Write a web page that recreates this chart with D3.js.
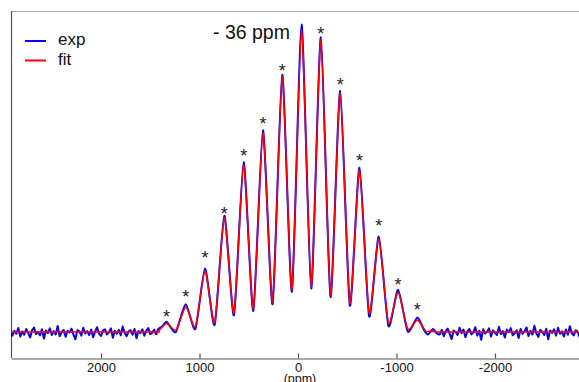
<!DOCTYPE html>
<html>
<head>
<meta charset="utf-8">
<script src="https://cdn.jsdelivr.net/npm/d3@7"></script>
<style>
  html, body { margin: 0; padding: 0; background: #fff; }
  svg { display: block; font-family: "Liberation Sans", Arial, Helvetica, sans-serif; }
</style>
</head>
<body>
<svg id="chart" width="579" height="382"></svg>
<script>
// ---------------- data ----------------
// x axis in ppm (reversed), y = relative intensity (baseline 0, main peak ~100)
const xTickValues = [2000, 1000, 0, -1000, -2000];
const xTickLabels = ["2000", "1000", "0", "-1000", "-2000"];
const xAxisTitle = "(ppm)";
const annotation = "- 36 ppm";
const seriesNames = ["exp", "fit"];
const seriesColors = ["#0000ff", "#ff0000"];

// fit curve: key points (peak tops and valleys) in ppm / intensity
const fitPpm = [2920, 1500, 1420, 1336, 1238, 1140, 1042, 944, 846, 748, 650, 552, 454, 356, 258, 160, 62, -36, -134, -232, -330, -428, -526, -624, -722, -820, -918, -1016, -1114, -1212, -1300, -1370, -1450, -2880];
const fitInt = [0, 0, 0.3, 2.8, 0.6, 8.3, 1.8, 20.2, 3.1, 37.7, 6.3, 55.3, 7.6, 65.9, 10.0, 84.4, 13.9, 100, 15.0, 96.7, 12.3, 79.1, 9.6, 53.6, 6.3, 30.8, 3.0, 13.2, 1.0, 4.0, 0.2, 0.6, 0, 0];

// experimental spectrum: noisy baseline on the left (from 2920 ppm, every 20 ppm)
const expLeftStart = 2920, expStep = 20;
const expLeftInt = [
  0.8,-1.2,0.4,-0.6,1.3,-1.5,0.2,-0.9,1.0,-0.3,-1.8,0.6,1.5,-0.7,0.1,
  -1.1,0.9,-2.2,0.5,-0.4,1.2,-1.0,0.3,-0.8,2.0,-1.4,0.0,0.7,-1.6,0.4,
  -0.2,1.1,-0.9,-2.4,0.6,0.2,-1.2,1.4,-0.5,0.3,-1.0,0.8,-1.7,0.1,1.6,
  -0.6,-1.3,0.5,0.9,-0.8,-0.1,1.2,-1.9,0.4,-0.6,0.7,-1.1,1.8,-0.3,-1.4,
  0.2,0.6,-0.9,1.0,-2.1,0.3,-0.4,0.9,-1.2,0.5,1.3,-0.7,-0.2,0.8,-1.0];
// experimental spectrum: sideband region
const expMidPpm = [1440, 1420, 1380, 1336, 1290, 1238, 1140, 1042, 944, 846, 748, 650, 552, 454, 356, 258, 160, 62, -36, -134, -232, -330, -428, -526, -624, -722, -820, -918, -1016, -1114, -1212, -1280, -1320, -1370, -1410, -1440];
const expMidInt = [-1.0, 0.9, 1.8, 3.4, 1.4, 0.1, 9.2, 1.0, 21.0, 2.4, 38.5, 5.6, 56.2, 7.0, 66.8, 9.2, 85.2, 13.4, 101.8, 14.4, 97.6, 11.6, 79.8, 8.8, 54.4, 5.2, 31.6, 2.0, 14.0, 0.2, 4.8, 0.6, -0.8, 1.0, -0.5, -0.9];
// experimental spectrum: noisy baseline on the right (from -1440 ppm, every 20 ppm)
const expRightStart = -1440;
const expRightInt = [
  -0.9,0.7,-1.4,0.3,1.1,-0.6,-2.3,0.5,0.0,-1.0,1.4,-0.4,0.8,-1.7,0.2,
  1.0,-0.8,-0.2,1.6,-1.2,0.4,-2.6,0.9,-0.5,0.1,1.2,-1.5,0.6,-0.3,-1.0,
  1.7,-0.7,0.3,-1.8,0.8,-0.1,1.3,-1.1,-0.4,0.6,-2.0,1.0,-0.6,0.2,1.5,
  -1.3,0.4,-0.8,2.1,-0.5,-1.6,0.7,0.1,-1.0,1.1,-2.4,0.5,-0.3,0.9,-1.2,
  1.4,-0.6,0.2,-1.5,0.8,-0.9,1.9,-0.4,-1.1,0.6,0.0,-1.8,1.2];

// spinning sideband markers (*) : position and label height
const starPpm = [1336, 1140, 944, 748, 552, 356, 160, -232, -428, -624, -820, -1016, -1212];
const starInt = [6.3, 12.9, 25.8, 40.4, 59.6, 70.2, 87.7, 100, 83.1, 57.9, 36.4, 16.9, 8.6];

// ---------------- chart ----------------
const W = 579, H = 382;
const plot = { left: 11, right: 579, top: 11, bottom: 358 };
const svg = d3.select("#chart");

const x = d3.scaleLinear().domain([2914, -2853]).range([plot.left, plot.right]);
const y = d3.scaleLinear().domain([0, 100]).range([332, 30]);

const fitData = fitPpm.map((p, i) => ({ p, v: fitInt[i] }));
const expLeft = expLeftInt.map((v, i) => ({ p: expLeftStart - i * expStep, v }));
const expMid = expMidPpm.map((p, i) => ({ p, v: expMidInt[i] }));
const expRight = expRightInt.map((v, i) => ({ p: expRightStart - i * expStep, v }));

svg.append("defs").append("clipPath").attr("id", "clip")
  .append("rect")
  .attr("x", plot.left).attr("y", 0)
  .attr("width", plot.right - plot.left).attr("height", plot.bottom);

// top frame line
svg.append("line")
  .attr("x1", plot.left).attr("x2", plot.right)
  .attr("y1", plot.top + 0.5).attr("y2", plot.top + 0.5)
  .attr("stroke", "#aaaaaa").attr("stroke-width", 1);

// left axis line
svg.append("line")
  .attr("x1", plot.left + 0.5).attr("x2", plot.left + 0.5)
  .attr("y1", plot.top).attr("y2", plot.bottom)
  .attr("stroke", "#555555").attr("stroke-width", 1.2);

// bottom axis
const xAxis = d3.axisBottom(x)
  .tickValues(xTickValues)
  .tickFormat((d, i) => xTickLabels[i])
  .tickSizeInner(-5)
  .tickSizeOuter(0)
  .tickPadding(4);
const gx = svg.append("g")
  .attr("transform", `translate(0,${plot.bottom + 0.5})`)
  .call(xAxis);
gx.select(".domain").attr("stroke", "#555555").attr("stroke-width", 1.2);
gx.selectAll(".tick line").attr("stroke", "#555555").attr("stroke-width", 1.2);
gx.selectAll(".tick text")
  .attr("fill", "#111")
  .style("font-size", "13px")
  .style("font-family", "'Liberation Sans', Arial, sans-serif");

svg.append("text")
  .attr("x", x(-20)).attr("y", 382.5)
  .attr("text-anchor", "middle")
  .attr("fill", "#111")
  .style("font-size", "12.5px")
  .text(xAxisTitle);

// lines
const smooth = d3.line()
  .x(d => x(d.p))
  .y(d => y(d.v))
  .curve(d3.curveCardinal.tension(0.35));
const jagged = d3.line()
  .x(d => x(d.p))
  .y(d => y(d.v));

const gLines = svg.append("g").attr("clip-path", "url(#clip)");
[[expLeft, jagged], [expMid, smooth], [expRight, jagged]].forEach(([data, gen]) => {
  gLines.append("path")
    .datum(data)
    .attr("fill", "none")
    .attr("stroke", seriesColors[0])
    .attr("stroke-width", 2)
    .attr("stroke-linejoin", "round")
    .attr("d", gen);
});
gLines.append("path")
  .datum(fitData)
  .attr("fill", "none")
  .attr("stroke", seriesColors[1])
  .attr("stroke-width", 1.5)
  .attr("stroke-linejoin", "round")
  .attr("d", smooth);

// sideband stars
svg.append("g").selectAll("text")
  .data(starPpm.map((p, i) => ({ p, v: starInt[i] })))
  .join("text")
  .attr("x", d => x(d.p))
  .attr("y", d => y(d.v) + 10)
  .attr("text-anchor", "middle")
  .attr("fill", "#222222")
  .style("font-size", "18px")
  .text("*");

// annotation
svg.append("text")
  .attr("x", 213).attr("y", 39)
  .attr("fill", "#111")
  .style("font-size", "19.5px")
  .text(annotation);

// legend
const legend = svg.append("g");
seriesNames.forEach((name, i) => {
  const ly = 41 + i * 19.5;
  legend.append("line")
    .attr("x1", 25).attr("x2", 46)
    .attr("y1", ly).attr("y2", ly)
    .attr("stroke", seriesColors[i]).attr("stroke-width", 2);
  legend.append("text")
    .attr("x", 58).attr("y", ly + 3.5 + (i === 1 ? 1 : 0))
    .attr("fill", "#111")
    .style("font-size", "17px")
    .text(name);
});
</script>
</body>
</html>
